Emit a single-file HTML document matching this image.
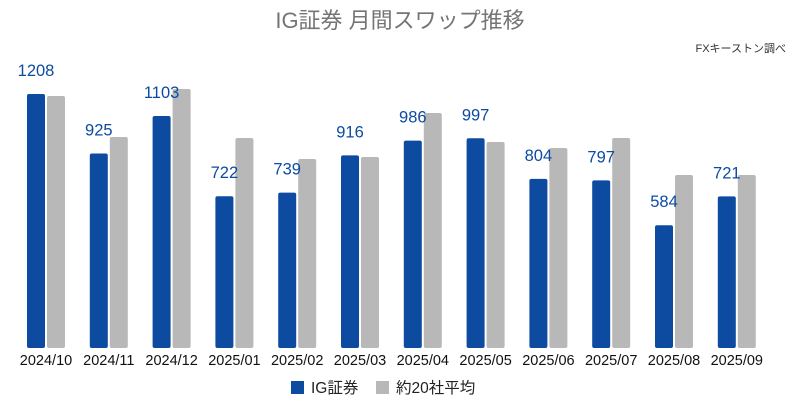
<!DOCTYPE html><html><head><meta charset="utf-8"><style>body{margin:0;background:#fff}svg{display:block}text{font-family:"Liberation Sans","Noto Sans CJK JP",sans-serif}</style></head><body>
<svg width="800" height="411" xmlns="http://www.w3.org/2000/svg">
<text x="400" y="28" text-anchor="middle" font-size="22" fill="#757575">IG証券 月間スワップ推移</text>
<text x="786" y="52" text-anchor="end" font-size="11" fill="#333">FXキーストン調べ</text>
<g fill="#0d4ba1">
<rect x="27" y="94" width="18" height="254" rx="2"/>
<rect x="89.8" y="153.5" width="18" height="194.5" rx="2"/>
<rect x="152.6" y="116" width="18" height="232" rx="2"/>
<rect x="215.4" y="196.2" width="18" height="151.8" rx="2"/>
<rect x="278.2" y="192.6" width="18" height="155.4" rx="2"/>
<rect x="341" y="155.4" width="18" height="192.6" rx="2"/>
<rect x="403.8" y="140.6" width="18" height="207.4" rx="2"/>
<rect x="466.6" y="138.3" width="18" height="209.7" rx="2"/>
<rect x="529.4" y="178.9" width="18" height="169.1" rx="2"/>
<rect x="592.2" y="180.4" width="18" height="167.6" rx="2"/>
<rect x="655" y="225.2" width="18" height="122.8" rx="2"/>
<rect x="717.8" y="196.4" width="18" height="151.6" rx="2"/>
</g>
<g fill="#b8b8b8">
<rect x="47" y="96" width="18" height="252" rx="2"/>
<rect x="109.8" y="137" width="18" height="211" rx="2"/>
<rect x="172.6" y="89" width="18" height="259" rx="2"/>
<rect x="235.4" y="138" width="18" height="210" rx="2"/>
<rect x="298.2" y="159" width="18" height="189" rx="2"/>
<rect x="361" y="157" width="18" height="191" rx="2"/>
<rect x="423.8" y="113" width="18" height="235" rx="2"/>
<rect x="486.6" y="142" width="18" height="206" rx="2"/>
<rect x="549.4" y="148" width="18" height="200" rx="2"/>
<rect x="612.2" y="138" width="18" height="210" rx="2"/>
<rect x="675" y="175" width="18" height="173" rx="2"/>
<rect x="737.8" y="175" width="18" height="173" rx="2"/>
</g>
<g font-size="16.5" fill="#0d4ba1" text-anchor="middle">
<text x="36" y="76">1208</text>
<text x="98.8" y="135.5">925</text>
<text x="161.6" y="98">1103</text>
<text x="224.4" y="178.2">722</text>
<text x="287.2" y="174.6">739</text>
<text x="350" y="137.4">916</text>
<text x="412.8" y="122.6">986</text>
<text x="475.6" y="120.3">997</text>
<text x="538.4" y="160.9">804</text>
<text x="601.2" y="162.4">797</text>
<text x="664" y="207.2">584</text>
<text x="726.8" y="178.4">721</text>
</g>
<g font-size="14.5" fill="#111" text-anchor="middle">
<text x="46" y="365">2024/10</text>
<text x="108.8" y="365">2024/11</text>
<text x="171.6" y="365">2024/12</text>
<text x="234.4" y="365">2025/01</text>
<text x="297.2" y="365">2025/02</text>
<text x="360" y="365">2025/03</text>
<text x="422.8" y="365">2025/04</text>
<text x="485.6" y="365">2025/05</text>
<text x="548.4" y="365">2025/06</text>
<text x="611.2" y="365">2025/07</text>
<text x="674" y="365">2025/08</text>
<text x="736.8" y="365">2025/09</text>
</g>
<rect x="291" y="381" width="13" height="13" fill="#0d4ba1"/><text x="311" y="393" font-size="15.5" fill="#222">IG証券</text>
<rect x="376" y="381" width="13" height="13" fill="#b8b8b8"/><text x="396" y="393" font-size="15.5" fill="#222">約20社平均</text>
</svg></body></html>
